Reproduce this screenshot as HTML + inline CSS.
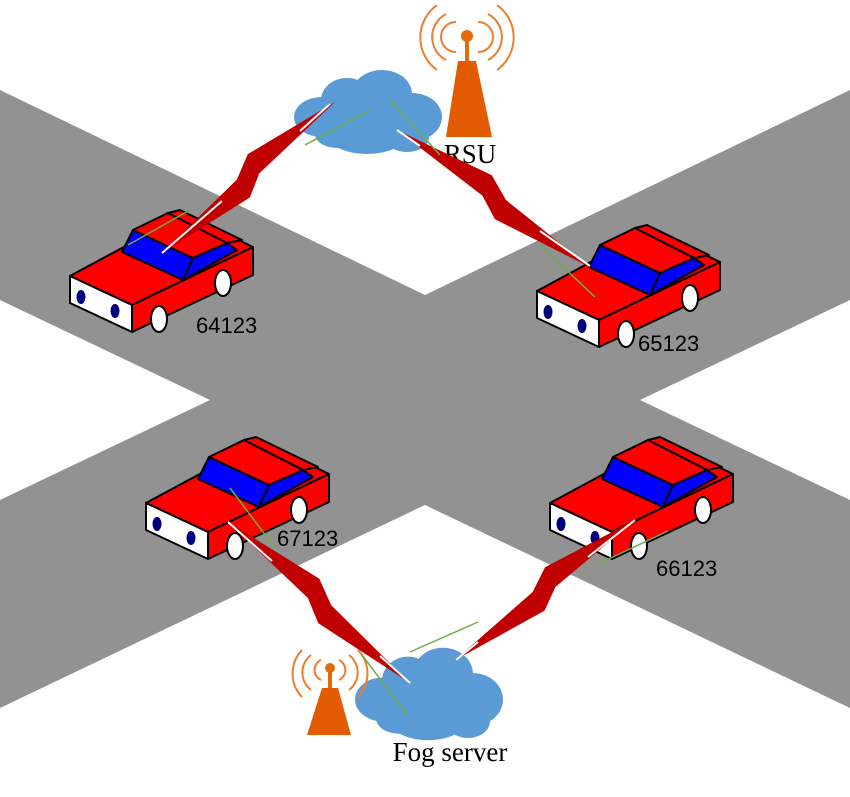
<!DOCTYPE html>
<html><head><meta charset="utf-8"><style>
html,body{margin:0;padding:0;background:#fff;}
svg{display:block;}
</style></head><body>
<svg width="850" height="797" viewBox="0 0 850 797" xmlns="http://www.w3.org/2000/svg">
<defs>
<g id="car" stroke="#000" stroke-width="2" stroke-linejoin="round">
  <polygon points="0,0 62,29 183,-29 115,-62" fill="#ff0000"/>
  <polygon points="0,0 62,29 62,56 0,27" fill="#fff"/>
  <polygon points="62,29 183,-29 183,-1 62,56" fill="#ff0000"/>
  <polygon points="98,-63 110,-66 172,-36 157,-33" fill="#ff0000"/>
  <polygon points="52,-24 63,-46 123,-18 113,4" fill="#0000ff"/>
  <polygon points="63,-46 98,-63 157,-33 123,-18" fill="#ff0000"/>
  <polygon points="123,-18 157,-33 167,-26 113,4" fill="#0000ff"/>
  <ellipse cx="89" cy="43" rx="8" ry="13" fill="#fff"/>
  <ellipse cx="153" cy="7" rx="8" ry="13" fill="#fff"/>
  <ellipse cx="11" cy="21" rx="4.5" ry="7" fill="#00007f" stroke="none"/>
  <ellipse cx="45" cy="35" rx="4.5" ry="7" fill="#00007f" stroke="none"/>
</g>
<g id="cloud" fill="#5b9bd5">
  <ellipse cx="0" cy="0" rx="48" ry="30"/>
  <ellipse cx="-45" cy="5" rx="28" ry="20"/>
  <ellipse cx="45" cy="5" rx="30" ry="24"/>
  <ellipse cx="15" cy="-18" rx="30" ry="24"/>
  <ellipse cx="-20" cy="-12" rx="26" ry="22"/>
  <ellipse cx="0" cy="22" rx="40" ry="20"/>
  <ellipse cx="-30" cy="22" rx="22" ry="14"/>
  <ellipse cx="40" cy="25" rx="22" ry="15"/>
</g>
<polygon id="bolt" points="0,0 100,18 125,6 229,0 127,-16 104,-4" fill="#c00000"/>
</defs>

<polygon points="0,90 425,295 850,90 850,300 640,400 850,500 850,708 425,505 0,708 0,500 210,400 0,300" fill="#929292"/>

<!-- top cloud -->
<use href="#cloud" transform="translate(367,112)"/>
<!-- RSU tower -->
<g fill="none" stroke="#ed7d31" stroke-width="2">
  <path d="M456,22 A14,14 0 0 0 456,52"/><path d="M478,22 A14,14 0 0 1 478,52"/>
  <path d="M446,14 A26,26 0 0 0 446,60"/><path d="M488,14 A26,26 0 0 1 488,60"/>
  <path d="M437,5 A40,40 0 0 0 437,70"/><path d="M497,5 A40,40 0 0 1 497,70"/>
</g>
<circle cx="467" cy="36" r="6" fill="#e36c0a"/>
<rect x="465" y="38" width="4" height="24" fill="#e36c0a"/>
<polygon points="458,61 476,61 492,137 446,137" fill="#e35b00"/>
<text x="470" y="163" font-family="Liberation Serif, serif" font-size="27" text-anchor="middle" fill="#000">RSU</text>

<!-- bottom cloud -->
<use href="#cloud" transform="translate(428,694) scale(1,1.1)"/>
<!-- Fog tower -->
<g fill="none" stroke="#ed7d31" stroke-width="2">
  <path d="M321,660 A11,11 0 0 0 321,680"/><path d="M339,660 A11,11 0 0 1 339,680"/>
  <path d="M311,655 A22,22 0 0 0 311,690"/><path d="M349,655 A22,22 0 0 1 349,690"/>
  <path d="M302,650 A34,34 0 0 0 302,697"/><path d="M358,650 A34,34 0 0 1 358,697"/>
</g>
<circle cx="330" cy="668" r="5" fill="#e36c0a"/>
<rect x="328" y="670" width="4" height="20" fill="#e36c0a"/>
<polygon points="322,688 338,688 351,735 307,735" fill="#e35b00"/>
<text x="450" y="761" font-family="Liberation Serif, serif" font-size="27" text-anchor="middle" fill="#000">Fog server</text>

<!-- cars -->
<use href="#car" transform="translate(70,276)"/>
<use href="#car" transform="translate(537,291)"/>
<use href="#car" transform="translate(146,503)"/>
<use href="#car" transform="translate(550,503)"/>

<g font-family="Liberation Sans, sans-serif" font-size="22" fill="#000">
<text x="196" y="333">64123</text>
<text x="638" y="351">65123</text>
<text x="277" y="546">67123</text>
<text x="656" y="576">66123</text>
</g>

<!-- lightning bolts -->
<use href="#bolt" transform="translate(335,102) rotate(138.9)"/>
<use href="#bolt" transform="translate(397,130) rotate(35.4) scale(1.035,-1)"/>
<use href="#bolt" transform="translate(228,522) rotate(41.5) scale(1.06,-1)"/>
<use href="#bolt" transform="translate(635,520) rotate(142.1)"/>

<!-- white/green lines -->
<g stroke="#fff" stroke-width="2">
  <line x1="330" y1="104" x2="300" y2="131"/>
  <line x1="222" y1="201" x2="162" y2="253"/>
  <line x1="397" y1="130" x2="420" y2="146"/>
  <line x1="540" y1="231" x2="590" y2="266"/>
  <line x1="228" y1="522" x2="272" y2="561"/>
  <line x1="380" y1="656" x2="410" y2="683"/>
  <line x1="635" y1="520" x2="588" y2="557"/>
  <line x1="478" y1="642" x2="456" y2="660"/>
</g>
<g stroke="#70ad47" stroke-width="1.5">
  <line x1="128" y1="245" x2="190" y2="210"/>
  <line x1="305" y1="145" x2="370" y2="110"/>
  <line x1="390" y1="100" x2="440" y2="155"/>
  <line x1="540" y1="245" x2="595" y2="297"/>
  <line x1="230" y1="488" x2="275" y2="548"/>
  <line x1="598" y1="564" x2="668" y2="531"/>
  <line x1="410" y1="652" x2="478" y2="622"/>
  <line x1="362" y1="655" x2="408" y2="716"/>
</g>
</svg>
</body></html>
